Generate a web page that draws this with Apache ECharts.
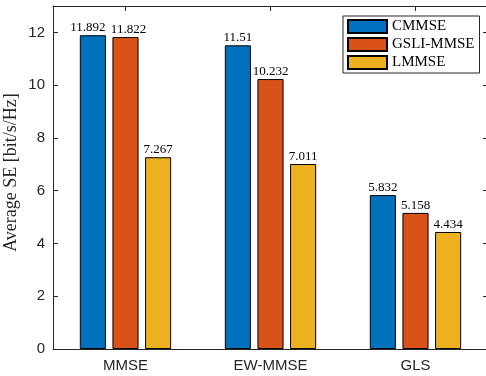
<!DOCTYPE html>
<html>
<head>
<meta charset="utf-8">
<script src="https://cdn.jsdelivr.net/npm/echarts@6/dist/echarts.min.js"></script>
<style>
  html, body { margin: 0; padding: 0; background: #fff; }
  #chart { width: 486px; height: 376px; }
</style>
</head>
<body>
<div id="chart"></div>
<script>
// Average spectral efficiency per precoder group
const categories = ['MMSE', 'EW-MMSE', 'GLS'];
const seriesNames = ['CMMSE', 'GSLI-MMSE', 'LMMSE'];
const cmmse = [11.892, 11.51, 5.832];
const gsliMmse = [11.822, 10.232, 5.158];
const lmmse = [7.267, 7.011, 4.434];
const yTicks = [0, 2, 4, 6, 8, 10, 12];
const yMax = 13;

const colors = ['#0072BD', '#D95319', '#EDB120'];
const axisColor = '#262626';
const serif = '"Liberation Serif", "DejaVu Serif", serif';
const sans = '"Liberation Sans", Arial, sans-serif';

// Horizontal nudges for value labels that would otherwise collide
// (key: "seriesIndex-categoryIndex", value: pixel offset)
const labelNudge = { '0-0': -5, '1-0': 3 };

const chart = echarts.init(document.getElementById('chart'), null, { renderer: 'canvas' });

function barSeries(si, data) {
  return {
    name: seriesNames[si],
    type: 'bar',
    data: data.map((v, ci) => {
      const dx = labelNudge[si + '-' + ci];
      return dx ? { value: v, label: { offset: [dx, 0] } } : v;
    }),
    barGap: '25%',
    barCategoryGap: '37%',
    itemStyle: { color: colors[si], borderColor: '#000', borderWidth: 1 },
    label: {
      show: true,
      position: 'top',
      distance: 1,
      fontFamily: serif,
      fontSize: 13,
      color: '#000',
      formatter: p => String(p.value)
    }
  };
}

const lineStyle = { color: axisColor, width: 1 };
const tickStyle = { show: true, inside: true, length: 5, lineStyle: { color: axisColor } };

chart.setOption({
  animation: false,
  grid: {
    left: 53, top: 6, width: 435, height: 343,
    containLabel: false,
    outerBoundsMode: 'none'
  },
  legend: {
    orient: 'vertical',
    left: 343,
    top: 16,
    data: seriesNames,
    itemWidth: 39,
    itemHeight: 13,
    itemGap: 3,
    padding: [3, 5, 3, 4],
    borderColor: axisColor,
    borderWidth: 1,
    backgroundColor: '#fff',
    icon: 'rect',
    textStyle: { fontFamily: serif, fontSize: 15, lineHeight: 15, color: '#000' }
  },
  xAxis: [
    {
      type: 'category',
      data: categories,
      axisLine: { show: true, onZero: false, lineStyle: lineStyle },
      axisTick: Object.assign({ alignWithLabel: true }, tickStyle),
      axisLabel: { fontFamily: sans, fontSize: 15, color: axisColor, margin: 9 },
      splitLine: { show: false }
    },
    {
      type: 'category',
      data: categories,
      position: 'top',
      axisLine: { show: true, onZero: false, lineStyle: lineStyle },
      axisTick: Object.assign({ alignWithLabel: true }, tickStyle),
      axisLabel: { show: false },
      splitLine: { show: false }
    }
  ],
  yAxis: [
    {
      type: 'value',
      min: 0,
      max: yMax,
      interval: 2,
      name: 'Average SE [bit/s/Hz]',
      nameLocation: 'middle',
      nameGap: 33,
      nameMoveOverlap: false,
      nameTextStyle: { fontFamily: serif, fontSize: 18, color: axisColor, padding: [0, 0, 0, 10] },
      axisLine: { show: true, onZero: false, lineStyle: lineStyle },
      axisTick: Object.assign({ customValues: yTicks }, tickStyle),
      axisLabel: { fontFamily: sans, fontSize: 15, color: axisColor, margin: 8, customValues: yTicks },
      splitLine: { show: false }
    },
    {
      type: 'value',
      min: 0,
      max: yMax,
      interval: 2,
      position: 'right',
      axisLine: { show: true, onZero: false, lineStyle: lineStyle },
      axisTick: Object.assign({ customValues: yTicks }, tickStyle),
      axisLabel: { show: false },
      splitLine: { show: false }
    }
  ],
  series: [
    barSeries(0, cmmse),
    barSeries(1, gsliMmse),
    barSeries(2, lmmse)
  ]
});
</script>
</body>
</html>
